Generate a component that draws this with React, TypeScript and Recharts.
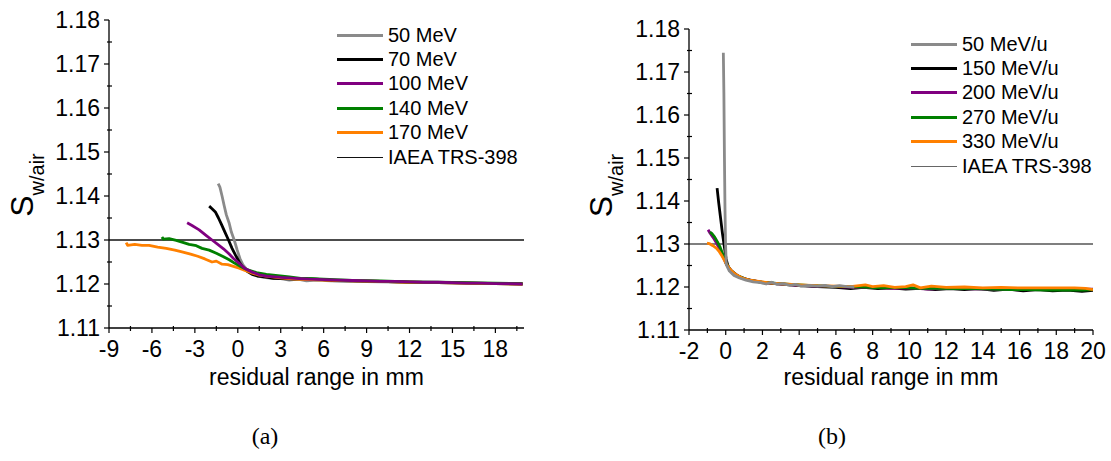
import React from 'react';
import { LineChart, Line, XAxis, YAxis, ReferenceLine, Legend, Label } from 'recharts';

// ---- panel (a): protons, x = residual range (mm), y = S_w/air ----
const protonNames = ['50 MeV', '70 MeV', '100 MeV', '140 MeV', '170 MeV'];
const protonColors = ['#8a8a8a', '#000000', '#800080', '#008000', '#ff8000'];

const p50: [number, number][] = [
  [-1.37, 1.1428], [-1.25, 1.142], [-1.1, 1.14], [-0.95, 1.1378], [-0.8, 1.1357], [-0.6, 1.1338],
  [-0.45, 1.1318], [-0.25, 1.13], [-0.05, 1.1278], [0.15, 1.1258], [0.35, 1.1244], [0.6, 1.1234],
  [0.9, 1.1226], [1.3, 1.1219], [1.8, 1.1215], [2.4, 1.1213], [3.0, 1.1212], [3.6, 1.1209],
  [4.2, 1.1211], [4.8, 1.1207], [5.5, 1.1209], [6.5, 1.1207], [8, 1.1206], [10, 1.1205],
  [12, 1.1204], [14, 1.1203], [16, 1.1202], [18, 1.1201], [19.9, 1.12],
];
const p70: [number, number][] = [
  [-2.0, 1.1377], [-1.8, 1.1371], [-1.55, 1.1363], [-1.35, 1.135], [-1.15, 1.1336], [-0.9, 1.1318],
  [-0.65, 1.13], [-0.4, 1.1281], [-0.15, 1.1265], [0.1, 1.125], [0.35, 1.1238], [0.65, 1.1229],
  [1.0, 1.1222], [1.4, 1.1218], [1.9, 1.1216], [2.5, 1.1213], [3.2, 1.1212], [4.0, 1.1211],
  [4.8, 1.1212], [5.5, 1.1211], [6.5, 1.1208], [8, 1.1207], [10, 1.1206], [12, 1.1204],
  [14, 1.1203], [16, 1.1202], [18, 1.1201], [19.9, 1.12],
];
const p100: [number, number][] = [
  [-3.54, 1.1339], [-3.2, 1.1333], [-2.7, 1.1323], [-2.2, 1.131], [-1.8, 1.13], [-1.4, 1.129],
  [-1.0, 1.128], [-0.6, 1.1268], [-0.3, 1.1258], [0.1, 1.1247], [0.5, 1.1235], [1.0, 1.1227],
  [1.5, 1.1221], [2.0, 1.1218], [3, 1.1215], [4, 1.1213], [5, 1.1211], [6, 1.121], [7, 1.1209],
  [8, 1.1208], [9, 1.1207], [10, 1.1206], [11, 1.1206], [12, 1.1205], [13, 1.1204], [14, 1.1204],
  [15, 1.1203], [16, 1.1202], [17, 1.1202], [18, 1.1201], [19, 1.1201], [19.9, 1.12],
];
const p140: [number, number][] = [
  [-5.3, 1.1307], [-5.2, 1.1302], [-4.8, 1.1303], [-4.3, 1.1299], [-3.9, 1.1295], [-3.4, 1.129],
  [-2.9, 1.1287], [-2.5, 1.1281], [-2.0, 1.1277], [-1.5, 1.127], [-1.0, 1.1262], [-0.6, 1.1255],
  [-0.2, 1.1247], [0.2, 1.124], [0.7, 1.1232], [1.3, 1.1226], [2, 1.1222], [2.8, 1.1219],
  [3.6, 1.1216], [4.4, 1.1213], [5.2, 1.1212], [6, 1.1211], [8, 1.1208], [10, 1.1207],
  [12, 1.1205], [14, 1.1204], [16, 1.1203], [18, 1.1202], [19.9, 1.1201],
];
const p170: [number, number][] = [
  [-7.8, 1.1294], [-7.7, 1.1288], [-7.2, 1.129], [-6.7, 1.1288], [-6.2, 1.1288], [-5.6, 1.1284],
  [-5.0, 1.1281], [-4.4, 1.1277], [-3.9, 1.1273], [-3.3, 1.1268], [-2.8, 1.1263], [-2.3, 1.1257],
  [-1.8, 1.125], [-1.5, 1.1252], [-1.1, 1.1245], [-0.7, 1.1244], [-0.3, 1.124], [0.1, 1.1236],
  [0.5, 1.1231], [0.9, 1.1226], [1.4, 1.1221], [2, 1.1218], [3, 1.1214], [4, 1.1211], [6, 1.1209],
  [8, 1.1207], [10, 1.1206], [12, 1.1204], [14, 1.1203], [16, 1.1202], [18, 1.1201], [19.9, 1.12],
];
const protonSeries = [p50, p70, p100, p140, p170];
const protonDrawOrder = [0, 1, 4, 3, 2];

// ---- panel (b): carbon ions ----
const carbonNames = ['50 MeV/u', '150 MeV/u', '200 MeV/u', '270 MeV/u', '330 MeV/u'];
const carbonColors = ['#8a8a8a', '#000000', '#800080', '#008000', '#ff8000'];

const c50: [number, number][] = [
  [-0.13, 1.1745], [-0.1, 1.165], [-0.07, 1.15], [-0.04, 1.138], [-0.01, 1.13], [0.03, 1.1252],
  [0.2, 1.1237], [0.45, 1.1227], [0.75, 1.1221], [1.1, 1.1216], [1.5, 1.1212], [1.9, 1.121],
  [2.2, 1.1207], [2.5, 1.1211], [2.8, 1.1206], [3.1, 1.1208], [3.5, 1.1204], [3.8, 1.1206],
  [4.1, 1.1202], [4.5, 1.1204], [5.0, 1.1202], [5.4, 1.1204], [5.8, 1.1201], [6.2, 1.1203],
  [6.6, 1.1201], [7.0, 1.12],
];
const c150: [number, number][] = [
  [-0.47, 1.143], [-0.38, 1.1395], [-0.28, 1.136], [-0.18, 1.1325], [-0.08, 1.1295], [0.02, 1.1265],
  [0.15, 1.1245], [0.4, 1.1232], [0.8, 1.1222], [1.3, 1.1216], [2, 1.1211], [3, 1.1207], [4, 1.1203],
  [5, 1.1201], [6, 1.1199], [6.8, 1.1196], [7.5, 1.1199], [8.3, 1.1196], [9, 1.1198], [9.8, 1.1195],
  [10.6, 1.1197], [11.4, 1.1194], [12.2, 1.1196], [13, 1.1194], [13.8, 1.1196], [14.6, 1.1192],
  [15.4, 1.1195], [16.2, 1.1191], [17, 1.1194], [17.8, 1.1191], [18.6, 1.1193], [19.4, 1.119], [20, 1.1192],
];
const c200: [number, number][] = [
  [-0.96, 1.1333], [-0.85, 1.1325], [-0.7, 1.1316], [-0.5, 1.1302], [-0.3, 1.1285], [-0.12, 1.1268],
  [0.05, 1.1252], [0.3, 1.1238], [0.7, 1.1225], [1.2, 1.1217], [2, 1.1211], [3, 1.1207], [4, 1.1204],
  [5, 1.1202], [6, 1.1201], [7, 1.1199], [8, 1.1199], [9, 1.1197], [10, 1.1198], [11, 1.1195],
  [12, 1.1197], [13, 1.1196], [14, 1.1195], [15, 1.1195], [16, 1.1194], [17, 1.1195], [18, 1.1194],
  [19, 1.1195], [20, 1.1195],
];
const c270: [number, number][] = [
  [-0.86, 1.1328], [-0.75, 1.1324], [-0.6, 1.1316], [-0.45, 1.1305], [-0.3, 1.1292], [-0.15, 1.1275],
  [0.02, 1.1255], [0.25, 1.124], [0.6, 1.1227], [1.1, 1.1218], [1.8, 1.1212], [2.6, 1.1209],
  [3.5, 1.1206], [4.5, 1.1204], [5.5, 1.1202], [6.5, 1.1201], [7.5, 1.12], [8.5, 1.1198],
  [9.5, 1.1199], [10.5, 1.1197], [11.5, 1.1197], [12.5, 1.1196], [13.5, 1.1196], [14.5, 1.1195],
  [15.5, 1.1194], [16.5, 1.1194], [17.5, 1.1193], [18.5, 1.1193], [19.5, 1.1193], [20, 1.1194],
];
const c330: [number, number][] = [
  [-1.02, 1.1302], [-0.9, 1.1301], [-0.7, 1.1296], [-0.5, 1.129], [-0.35, 1.1282], [-0.2, 1.1272],
  [-0.05, 1.126], [0.1, 1.1249], [0.3, 1.1238], [0.55, 1.1229], [0.9, 1.1221], [1.3, 1.1216],
  [1.8, 1.1213], [2.5, 1.1209], [3.2, 1.1207], [4, 1.1205], [5, 1.1203], [6, 1.1202], [6.8, 1.1201],
  [7.6, 1.1205], [8, 1.1201], [8.6, 1.1203], [9.2, 1.1199], [9.8, 1.1201], [10.2, 1.1205],
  [10.6, 1.1198], [11.2, 1.1202], [12, 1.1199], [13, 1.12], [14, 1.1198], [15, 1.1199], [16, 1.1198],
  [17, 1.1198], [18, 1.1198], [19, 1.1198], [19.6, 1.1197], [20, 1.1194],
];
const carbonSeries = [c50, c150, c200, c270, c330];
const carbonDrawOrder = [1, 2, 3, 4, 0];

// reference value and ticks
const iaeaValue = 1.13;
const iaeaName = 'IAEA TRS-398';
const yTicks = [1.11, 1.115, 1.12, 1.125, 1.13, 1.135, 1.14, 1.145, 1.15, 1.155, 1.16, 1.165, 1.17, 1.175, 1.18];
const yMajor = [1.11, 1.12, 1.13, 1.14, 1.15, 1.16, 1.17, 1.18];
const xTicksA = [-9, -7.5, -6, -4.5, -3, -1.5, 0, 1.5, 3, 4.5, 6, 7.5, 9, 10.5, 12, 13.5, 15, 16.5, 18, 19.5];
const xMajorA = [-9, -6, -3, 0, 3, 6, 9, 12, 15, 18];
const xTicksB = [-2, -1, 0, 1, 2, 3, 4, 5, 6, 7, 8, 9, 10, 11, 12, 13, 14, 15, 16, 17, 18, 19, 20];
const xMajorB = [-2, 0, 2, 4, 6, 8, 10, 12, 14, 16, 18, 20];

const FONT = '"Liberation Sans", Arial, sans-serif';
const SERIF = '"Liberation Serif", "DejaVu Serif", serif';

const toPoints = (arr: [number, number][]) => arr.map(([x, y]) => ({ x, y }));
const isIn = (list: number[], v: number) => list.some((m) => Math.abs(m - v) < 1e-6);

const makeXTick = (majors: number[]) => (props: any) => {
  const { x, y, payload } = props;
  const v = payload.value;
  const major = isIn(majors, v);
  return (
    <g>
      <line x1={x} x2={x} y1={major ? y : y - 2} y2={major ? y + 5 : y + 3} stroke="#000" strokeWidth={1.2} />
      {major && (
        <text x={x} y={y + 29} textAnchor="middle" fontSize={23} fontFamily={FONT} fill="#000">
          {String(v)}
        </text>
      )}
    </g>
  );
};

const YTick = (props: any) => {
  const { x, y, payload } = props;
  const v = payload.value;
  const major = isIn(yMajor, v);
  return (
    <g>
      <line x1={major ? x - 5 : x - 2} x2={major ? x : x + 3} y1={y} y2={y} stroke="#000" strokeWidth={1.2} />
      {major && (
        <text x={x - 9} y={y} dy="0.36em" textAnchor="end" fontSize={23} fontFamily={FONT} fill="#000">
          {v.toFixed(2)}
        </text>
      )}
    </g>
  );
};

const yTitle = (dx: number, dyc: number) => (props: any) => {
  const vb = props.viewBox;
  const bx = vb.x + dx;
  const cy = vb.y + vb.height / 2 + dyc;
  return (
    <text x={bx} y={cy} transform={`rotate(-90 ${bx} ${cy})`} textAnchor="middle" fontFamily={FONT} fill="#000">
      <tspan fontSize={32}>S</tspan>
      <tspan fontSize={20} dy={11}>w/air</tspan>
    </text>
  );
};

const xTitle = (dyb: number) => (props: any) => {
  const vb = props.viewBox;
  return (
    <text x={vb.x + vb.width / 2} y={vb.y + dyb} textAnchor="middle" fontSize={23} fontFamily={FONT} fill="#000">
      residual range in mm
    </text>
  );
};

const legendBox = (names: string[], colors: string[], refColor: string) => () => (
  <div style={{ fontFamily: FONT, fontSize: 20, color: '#000' }}>
    {names.map((n, i) => (
      <div key={n} style={{ display: 'flex', alignItems: 'center', height: 24.4 }}>
        <span style={{ display: 'inline-block', width: 46, height: 3, background: colors[i], marginRight: 5 }} />
        <span style={{ whiteSpace: 'nowrap' }}>{n}</span>
      </div>
    ))}
    <div style={{ display: 'flex', alignItems: 'center', height: 24.4 }}>
      <span style={{ display: 'inline-block', width: 46, height: 1.3, background: refColor, marginRight: 5 }} />
      <span style={{ whiteSpace: 'nowrap' }}>{iaeaName}</span>
    </div>
  </div>
);

const captionStyle: React.CSSProperties = {
  position: 'absolute',
  top: 423,
  width: 100,
  textAlign: 'center',
  fontFamily: SERIF,
  fontSize: 24,
  color: '#000',
};

export default function App() {
  return (
    <div style={{ position: 'absolute', left: 0, top: 0, width: 1111, height: 461, background: '#fff', overflow: 'hidden' }}>
      <div style={{ position: 'absolute', left: 0, top: 0 }}>
        <LineChart width={560} height={420} margin={{ top: 20, right: 36, bottom: 32, left: 0 }}>
          <XAxis
            type="number"
            dataKey="x"
            domain={[-9, 20]}
            ticks={xTicksA}
            interval={0}
            allowDataOverflow
            height={60}
            tickSize={0}
            tickMargin={0}
            tick={makeXTick(xMajorA)}
            stroke="#000"
            strokeWidth={1.3}
          >
            <Label content={xTitle(57)} />
          </XAxis>
          <YAxis
            type="number"
            dataKey="y"
            domain={[1.11, 1.18]}
            ticks={yTicks}
            interval={0}
            allowDataOverflow
            width={109}
            tickSize={0}
            tickMargin={0}
            tick={YTick}
            stroke="#000"
            strokeWidth={1.3}
          >
            <Label content={yTitle(33, 11)} />
          </YAxis>
          <ReferenceLine y={iaeaValue} stroke="#111" strokeWidth={1.3} />
          {protonDrawOrder.map((i) => (
            <Line
              key={protonNames[i]}
              data={toPoints(protonSeries[i])}
              dataKey="y"
              name={protonNames[i]}
              type="linear"
              stroke={protonColors[i]}
              strokeWidth={2.8}
              strokeLinejoin="round"
              dot={false}
              isAnimationActive={false}
            />
          ))}
          <Legend
            layout="vertical"
            align="center"
            verticalAlign="middle"
            content={legendBox(protonNames, protonColors, '#111')}
            wrapperStyle={{ left: 337, top: 23, width: 200 }}
          />
        </LineChart>
      </div>

      <div style={{ position: 'absolute', left: 560, top: 0 }}>
        <LineChart width={551} height={420} margin={{ top: 29, right: 18, bottom: 30, left: 0 }}>
          <XAxis
            type="number"
            dataKey="x"
            domain={[-2, 20]}
            ticks={xTicksB}
            interval={0}
            allowDataOverflow
            height={60}
            tickSize={0}
            tickMargin={0}
            tick={makeXTick(xMajorB)}
            stroke="#000"
            strokeWidth={1.3}
          >
            <Label content={xTitle(55)} />
          </XAxis>
          <YAxis
            type="number"
            dataKey="y"
            domain={[1.11, 1.18]}
            ticks={yTicks}
            interval={0}
            allowDataOverflow
            width={129}
            tickSize={0}
            tickMargin={0}
            tick={YTick}
            stroke="#000"
            strokeWidth={1.3}
          >
            <Label content={yTitle(52, 6)} />
          </YAxis>
          <ReferenceLine y={iaeaValue} stroke="#555" strokeWidth={1.3} />
          {carbonDrawOrder.map((i) => (
            <Line
              key={carbonNames[i]}
              data={toPoints(carbonSeries[i])}
              dataKey="y"
              name={carbonNames[i]}
              type="linear"
              stroke={carbonColors[i]}
              strokeWidth={2.8}
              strokeLinejoin="round"
              dot={false}
              isAnimationActive={false}
            />
          ))}
          <Legend
            layout="vertical"
            align="center"
            verticalAlign="middle"
            content={legendBox(carbonNames, carbonColors, '#666')}
            wrapperStyle={{ left: 351, top: 32, width: 200 }}
          />
        </LineChart>
      </div>

      <div style={{ ...captionStyle, left: 215 }}>(a)</div>
      <div style={{ ...captionStyle, left: 782 }}>(b)</div>
    </div>
  );
}
